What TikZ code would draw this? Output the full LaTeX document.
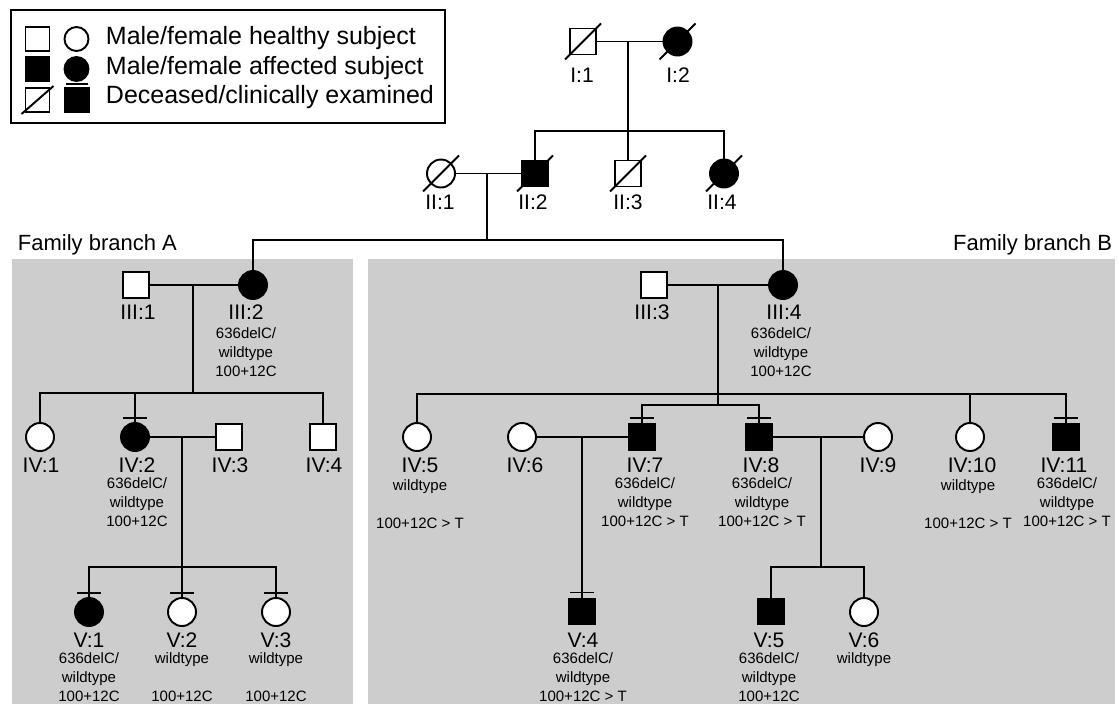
\documentclass[tikz,border=0pt]{standalone}
\usepackage{fontspec}
\setmainfont{Liberation Sans}
\definecolor{panelgray}{RGB}{205,205,205}
\newcommand\lgfont{\fontsize{18.75}{22}\selectfont}
\newcommand\lblfont{\fontsize{15.8}{18}\selectfont}
\newcommand\annfont{\fontsize{11.25}{14.25}\selectfont}
\newcommand\brfont{\fontsize{16.5}{20}\selectfont}
\tikzset{
  male/.style={draw, rectangle, minimum size=19.5pt, inner sep=0pt, fill=white},
  female/.style={draw, circle, minimum size=21pt, inner sep=0pt, fill=white},
  lgsym/.style={minimum size=18pt},
  affected/.style={fill=black},
  lbl/.style={font=\lblfont, inner sep=0pt},
  ann/.style={font=\annfont, align=center, inner sep=0pt, anchor=north},
  lgtext/.style={font=\lgfont, inner sep=0pt, anchor=west},
  brtext/.style={font=\brfont, inner sep=0pt},
}
\newcommand\deadmark[1]{\draw ([shift={(-18,18)}]#1.center) -- ([shift={(18,-18)}]#1.center);}
\newcommand\exambar[1]{\draw ([shift={(-12,-19)}]#1.center) -- ([shift={(12,-19)}]#1.center);}
\begin{document}
\begin{tikzpicture}[x=0.75pt,y=-0.75pt,line width=1.45pt]
\useasboundingbox (0,0) rectangle (1119,704);
% panels
\fill[panelgray] (12,259) rectangle (353,704);
\fill[panelgray] (368,259) rectangle (1115,704);
% legend
\draw[line width=1.1pt] (11,10) rectangle (445,123);
\node[male,lgsym] (lm) at (37.5,39) {};
\node[female,lgsym] (lf) at (76.5,39) {};
\node[male,lgsym,affected] (lma) at (37.5,69) {};
\node[female,lgsym,affected] (lfa) at (76.5,69) {};
\node[male,lgsym] (ld) at (37.5,100) {};
\draw ([shift={(-16,14)}]ld.center) -- ([shift={(16,-14)}]ld.center);
\node[male,lgsym,affected] (lc) at (77,100) {};
\draw ([shift={(-11,-16)}]lc.center) -- ([shift={(11,-16)}]lc.center);
\node[lgtext] (t1) at (105,38) {Male/female healthy subject};
\node[lgtext] (t2) at (105,68) {Male/female affected subject};
\node[lgtext] (t3) at (105,97) {Deceased/clinically examined};
% branch titles
\node[brtext,anchor=west] (brA) at (17,245) {Family branch A};
\node[brtext,anchor=east] (brB) at (1113,245) {Family branch B};
% generation I
\node[male] (I1) at (583,41.5) {};
\node[female,affected] (I2) at (677.5,41.5) {};
\node[lbl] (lI1) at (582,75) {I:1};
\node[lbl] (lI2) at (678,75) {I:2};
\draw (I1) -- (I2);
\coordinate (cI) at (628,41.5);
\coordinate (sI) at (628,131);
% generation II
\node[female] (II1) at (441,173.5) {};
\node[male,affected] (II2) at (535,173.5) {};
\node[male] (II3) at (628,173.5) {};
\node[female,affected] (II4) at (724,173.5) {};
\node[lbl] (lII1) at (440,202) {II:1};
\node[lbl] (lII2) at (533,202) {II:2};
\node[lbl] (lII3) at (628,202) {II:3};
\node[lbl] (lII4) at (722,202) {II:4};
\draw (cI) -- (sI) -- (II3.north);
\draw (II2.north) -- (II2.north |- sI) -- (II4.north |- sI) -- (II4.north);
\draw (II1) -- (II2);
\coordinate (cII) at (487,173.5);
\coordinate (sII) at (487,240);
\deadmark{I1}\deadmark{I2}\deadmark{II1}\deadmark{II2}\deadmark{II3}\deadmark{II4}
% generation III
\node[male] (III1) at (136,285) {};
\node[female,affected] (III2) at (253,285) {};
\node[male] (III3) at (654,285) {};
\node[female,affected] (III4) at (783,285) {};
\node[lbl] (lIII1) at (138,312) {III:1};
\node[lbl] (lIII2) at (246,312) {III:2};
\node[lbl] (lIII3) at (652,312) {III:3};
\node[lbl] (lIII4) at (784,312) {III:4};
\node[ann] (aIII2) at (246,326.5) {636delC/\\wildtype\\100+12C};
\node[ann] (aIII4) at (781,326.5) {636delC/\\wildtype\\100+12C};
\draw (cII) -- (sII);
\draw (III2.north) -- (III2.north |- sII) -- (III4.north |- sII) -- (III4.north);
% branch A
\draw (III1) -- (III2);
\coordinate (cIIIa) at (193,285);
\coordinate (sIIIa) at (193,393);
\node[female] (IV1) at (40,437) {};
\node[female,affected] (IV2) at (135,437) {};
\node[male] (IV3) at (229,437) {};
\node[male] (IV4) at (323,437) {};
\node[lbl] (lIV1) at (41,465) {IV:1};
\node[lbl] (lIV2) at (137,465) {IV:2};
\node[lbl] (lIV3) at (230,465) {IV:3};
\node[lbl] (lIV4) at (324,465) {IV:4};
\node[ann] (aIV2) at (137,477) {636delC/\\wildtype\\100+12C};
\draw (cIIIa) -- (sIIIa);
\draw (IV1.north) -- (IV1.north |- sIIIa) -- (IV4.north |- sIIIa) -- (IV4.north);
\draw (IV2.north |- sIIIa) -- (IV2.north);
\exambar{IV2}
\draw (IV2) -- (IV3);
\coordinate (cIVa) at (182,437);
\coordinate (sIVa) at (182,567);
\node[female,affected] (V1) at (89,612) {};
\node[female] (V2) at (182,612) {};
\node[female] (V3) at (276,612) {};
\node[lbl] (lV1) at (89,640) {V:1};
\node[lbl] (lV2) at (182,640) {V:2};
\node[lbl] (lV3) at (276,640) {V:3};
\node[ann] (aV1) at (89,652) {636delC/\\wildtype\\100+12C};
\node[ann] (aV2) at (182,652) {wildtype\\\mbox{}\\100+12C};
\node[ann] (aV3) at (276,652) {wildtype\\\mbox{}\\100+12C};
\draw (cIVa) -- (sIVa) -- (V2.north);
\draw (V1.north) -- (V1.north |- sIVa) -- (V3.north |- sIVa) -- (V3.north);
\exambar{V1}\exambar{V2}\exambar{V3}
% branch B
\draw (III3) -- (III4);
\coordinate (cIIIb) at (718,285);
\coordinate (sIIIb) at (718,394);
\coordinate (sIIIc) at (718,405);
\node[female] (IV5) at (417,437) {};
\node[female] (IV6) at (522,437) {};
\node[male,affected] (IV7) at (642,437) {};
\node[male,affected] (IV8) at (759,437) {};
\node[female] (IV9) at (878,437) {};
\node[female] (IV10) at (970,437) {};
\node[male,affected] (IV11) at (1066,437) {};
\node[lbl] (lIV5) at (420,465) {IV:5};
\node[lbl] (lIV6) at (525,465) {IV:6};
\node[lbl] (lIV7) at (645,465) {IV:7};
\node[lbl] (lIV8) at (761,465) {IV:8};
\node[lbl] (lIV9) at (878,465) {IV:9};
\node[lbl] (lIV10) at (972,465) {IV:10};
\node[lbl] (lIV11) at (1064,465) {IV:11};
\node[ann] (aIV5) at (420,479) {wildtype\\\mbox{}\\100+12C > T};
\node[ann] (aIV7) at (645,477) {636delC/\\wildtype\\100+12C > T};
\node[ann] (aIV8) at (762,477) {636delC/\\wildtype\\100+12C > T};
\node[ann] (aIV10) at (968,479) {wildtype\\\mbox{}\\100+12C > T};
\node[ann] (aIV11) at (1067,477) {636delC/\\wildtype\\100+12C > T};
\draw (cIIIb) -- (sIIIc);
\draw (IV5.north) -- (IV5.north |- sIIIb) -- (IV11.north |- sIIIb) -- (IV11.north);
\draw (IV10.north |- sIIIb) -- (IV10.north);
\draw (IV7.north) -- (IV7.north |- sIIIc) -- (IV8.north |- sIIIc) -- (IV8.north);
\exambar{IV7}\exambar{IV8}\exambar{IV11}
\draw (IV6) -- (IV7);
\coordinate (cIVb) at (582,437);
\node[male,affected] (V4) at (582,611.5) {};
\node[lbl] (lV4) at (583,640) {V:4};
\node[ann] (aV4) at (583,652) {636delC/\\wildtype\\100+12C > T};
\draw (cIVb) -- (V4.north);
\exambar{V4}
\draw (IV8) -- (IV9);
\coordinate (cIVc) at (821,437);
\coordinate (sIVc) at (821,567);
\node[male,affected] (V5) at (771,611.5) {};
\node[female] (V6) at (864,612) {};
\node[lbl] (lV5) at (769,640) {V:5};
\node[lbl] (lV6) at (864,640) {V:6};
\node[ann] (aV5) at (769,652) {636delC/\\wildtype\\100+12C};
\node[ann] (aV6) at (864,652) {wildtype};
\draw (cIVc) -- (sIVc);
\draw (V5.north) -- (V5.north |- sIVc) -- (V6.north |- sIVc) -- (V6.north);
\end{tikzpicture}
\end{document}
